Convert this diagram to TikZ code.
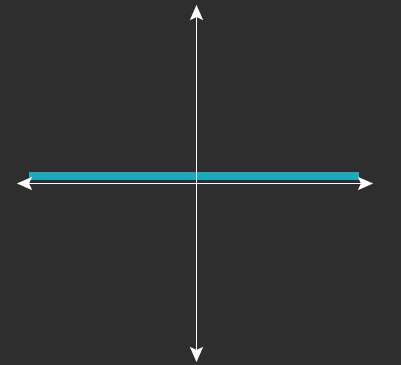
\documentclass[tikz,border=0pt]{standalone}
\usetikzlibrary{arrows.meta}
\definecolor{bg}{RGB}{46,46,46}
\definecolor{teal1}{RGB}{28,170,190}
\tikzset{
  axis/.style={white, line width=1.5bp, {Stealth[length=15bp,width=13bp,inset=3bp]}-{Stealth[length=15bp,width=13bp,inset=3bp]}},
  band/.style={teal1, line width=8bp, line cap=butt}
}
\begin{document}
\begin{tikzpicture}[x=1bp,y=-1bp]
\fill[bg] (0,0) rectangle (401,365);
\useasboundingbox (0,0) rectangle (401,365);
\coordinate (bl) at (29,176);
\coordinate (br) at (359,176);
\draw[band] (bl) -- (br);
\coordinate (xl) at (17,183.5);
\coordinate (xr) at (373,183.5);
\coordinate (yt) at (196.5,5);
\coordinate (yb) at (196.5,362);
\draw[axis] (xl) -- (xr);
\draw[axis] (yt) -- (yb);
\end{tikzpicture}
\end{document}
